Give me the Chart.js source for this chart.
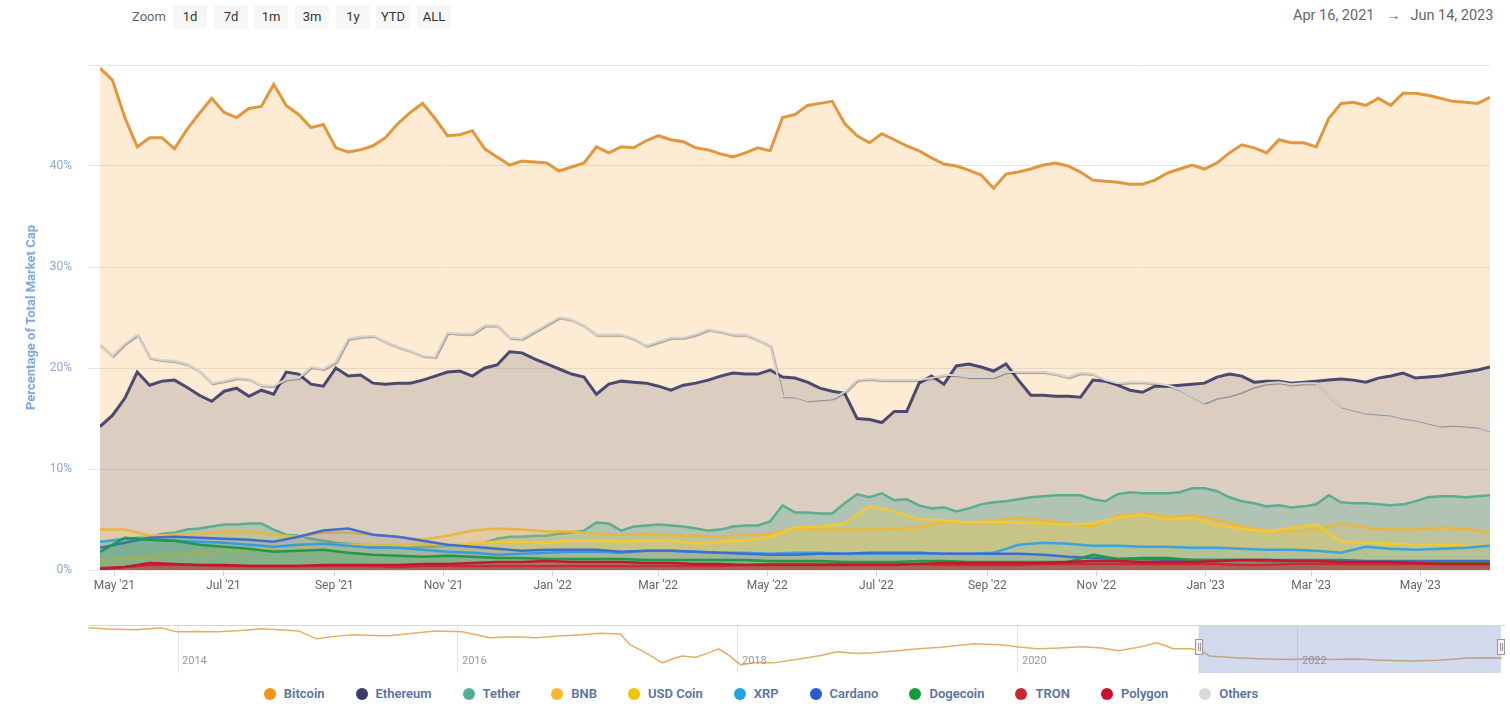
<!DOCTYPE html>
<html>
<head>
<meta charset="utf-8">
<script src="https://cdn.jsdelivr.net/npm/chart.js"></script>
<style>
  body { margin: 0; width: 1510px; height: 706px; background: #fff; position: relative; overflow: hidden;
         font-family: Roboto, "Liberation Sans", sans-serif; }
  .zoom-label { position: absolute; left: 132px; top: 9px; font-size: 13px; color: #666; }
  .btn { position: absolute; top: 5px; height: 24px; width: 34px; line-height: 24px; text-align: center;
         background: #f7f7f7; border-radius: 2px; font-size: 13px; color: #333; }
  .range { position: absolute; top: 7px; left: 1293px; font-size: 14.5px; color: #666; white-space: nowrap; }
  .range span { margin: 0 10px 0 12px; font-size: 14px; }
  #main { position: absolute; left: 0; top: 40px; }
  #nav { position: absolute; left: 88px; top: 626px; }
  #navline { position: absolute; left: 88px; top: 625px; width: 1417px; height: 1px; background: #d6d6d6; }
  #legend { position: absolute; left: 0; top: 686px; width: 1522px; display: flex; justify-content: center;
            font-size: 13px; font-weight: 600; color: #5a72a0; }
  .item { display: flex; align-items: center; margin: 0 15.5px; }
  .dot { width: 12px; height: 12px; border-radius: 50%; margin-right: 8px; }
</style>
</head>
<body>
<div class="zoom-label">Zoom</div>
<div class="btn" style="left:173px">1d</div>
<div class="btn" style="left:214px">7d</div>
<div class="btn" style="left:254px">1m</div>
<div class="btn" style="left:295px">3m</div>
<div class="btn" style="left:336px">1y</div>
<div class="btn" style="left:376px">YTD</div>
<div class="btn" style="left:417px">ALL</div>
<div class="range">Apr 16, 2021<span>→</span>Jun 14, 2023</div>

<canvas id="main" width="1510" height="560"></canvas>
<div id="navline"></div>
<canvas id="nav" width="1417" height="47"></canvas>
<div id="legend"></div>

<script>
// x axis: days since Apr 23, 2021
const startDate = Date.UTC(2021, 3, 23);
const spanDays = 777;

const tickMonths = [[2021,4],[2021,6],[2021,8],[2021,10],[2022,0],[2022,2],[2022,4],[2022,6],[2022,8],[2022,10],[2023,0],[2023,2],[2023,4]];
const tickLabels = ["May '21","Jul '21","Sep '21","Nov '21","Jan '22","Mar '22","May '22","Jul '22","Sep '22","Nov '22","Jan '23","Mar '23","May '23"];

const seriesNames = ['Bitcoin','Ethereum','Tether','BNB','USD Coin','XRP','Cardano','Dogecoin','TRON','Polygon','Others'];
const legendColors = ['#f7931a','#3c3c6c','#50af95','#f3ba2f','#f5c400','#23a3e3','#2a5ad0','#0f9b38','#c8272f','#c8102e','#d9d9d9'];
const lineColors = ['#e1983c','#4a4a70','#5aae8f','#e9b640','#f2c933','#3aa5dc','#3e6fcf','#1f9a45','#c9363d','#c0182f','#d2d2d2'];
const fillColors = ['rgba(247,153,40,0.2)','rgba(60,60,100,0.17)','rgba(80,175,149,0.3)','rgba(243,186,47,0.18)',
  'rgba(245,200,40,0.18)','rgba(35,163,227,0.12)','rgba(42,90,208,0.12)','rgba(15,155,56,0.2)',
  'rgba(200,39,47,0.3)','rgba(200,16,46,0.3)', null];

// weekly series (113 points)
const btc = [49.7,48.5,44.8,41.9,42.8,42.8,41.7,43.6,45.2,46.7,
  45.3,44.8,45.7,45.9,48.1,46.0,45.1,43.8,44.1,41.8,
  41.4,41.6,42.0,42.8,44.2,45.3,46.2,44.7,43.0,43.1,
  43.5,41.7,40.9,40.1,40.5,40.4,40.3,39.5,39.9,40.3,
  41.9,41.3,41.9,41.8,42.5,43.0,42.6,42.4,41.8,41.6,
  41.2,40.9,41.3,41.8,41.5,44.8,45.1,46.0,46.2,46.4,
  44.2,43.0,42.3,43.2,42.6,42.0,41.5,40.8,40.2,40.0,
  39.6,39.1,37.8,39.2,39.4,39.7,40.1,40.3,40.0,39.4,
  38.6,38.5,38.4,38.2,38.2,38.6,39.3,39.7,40.1,39.7,
  40.3,41.3,42.1,41.8,41.3,42.6,42.3,42.3,41.9,44.7,
  46.2,46.3,46.0,46.7,46.0,47.2,47.2,47.0,46.7,46.4,
  46.3,46.2,46.8];
const eth = [14.2,15.3,17.0,19.6,18.3,18.7,18.8,18.1,17.3,16.7,
  17.7,18.0,17.2,17.8,17.4,19.6,19.4,18.4,18.2,20.0,
  19.2,19.3,18.5,18.4,18.5,18.5,18.8,19.2,19.6,19.7,
  19.2,20.0,20.3,21.6,21.5,20.9,20.4,19.9,19.4,19.1,
  17.4,18.4,18.7,18.6,18.5,18.2,17.8,18.3,18.5,18.8,
  19.2,19.5,19.4,19.4,19.8,19.1,19.0,18.6,18.0,17.7,
  17.5,15.0,14.9,14.6,15.7,15.7,18.5,19.2,18.4,20.2,
  20.4,20.1,19.7,20.4,18.8,17.3,17.3,17.2,17.2,17.1,
  18.8,18.7,18.3,17.8,17.6,18.2,18.2,18.3,18.4,18.5,
  19.1,19.4,19.2,18.6,18.7,18.7,18.5,18.6,18.7,18.8,
  18.9,18.8,18.6,19.0,19.2,19.5,19.0,19.1,19.2,19.4,
  19.6,19.8,20.1];
const usdt = [2.8,2.9,3.1,3.2,3.2,3.6,3.7,4.0,4.1,4.3,
  4.5,4.5,4.6,4.6,4.0,3.5,3.4,3.1,2.9,2.7,
  2.6,2.5,2.4,2.3,2.2,2.2,2.3,2.3,2.4,2.5,
  2.6,2.7,3.1,3.3,3.3,3.4,3.4,3.6,3.7,3.9,
  4.7,4.6,3.9,4.3,4.4,4.5,4.4,4.3,4.1,3.9,
  4.0,4.3,4.4,4.4,4.8,6.4,5.7,5.7,5.6,5.6,
  6.6,7.5,7.2,7.6,6.9,7.0,6.4,6.1,6.2,5.8,
  6.1,6.5,6.7,6.8,7.0,7.2,7.3,7.4,7.4,7.4,
  7.0,6.8,7.5,7.7,7.6,7.6,7.6,7.7,8.1,8.1,
  7.8,7.2,6.8,6.6,6.3,6.4,6.2,6.3,6.5,7.4,
  6.7,6.6,6.6,6.5,6.4,6.5,6.8,7.2,7.3,7.3,
  7.2,7.3,7.4];
const others = [22.3,21.2,22.4,23.3,21.0,20.8,20.7,20.4,19.7,18.5,
  18.7,19.0,18.9,18.3,18.2,18.9,19.0,20.1,19.9,20.6,
  22.9,23.1,23.2,22.6,22.1,21.7,21.2,21.1,23.5,23.4,
  23.4,24.2,24.2,23.0,22.9,23.6,24.3,25.0,24.8,24.2,
  23.3,23.3,23.3,22.9,22.2,22.6,23.0,23.0,23.3,23.8,
  23.6,23.3,23.3,22.8,22.2,17.2,17.2,16.8,16.9,17.0,
  17.6,18.8,18.9,18.8,18.8,18.8,18.8,19.0,19.3,19.3,
  19.1,19.1,19.1,19.6,19.6,19.6,19.6,19.4,19.1,19.5,
  19.4,18.8,18.5,18.6,18.6,18.5,18.3,17.9,17.2,16.6,
  17.1,17.3,17.7,18.2,18.5,18.6,18.4,18.5,18.5,17.2,
  16.2,15.9,15.6,15.5,15.4,15.1,14.9,14.6,14.3,14.4,
  14.3,14.2,13.8];

// fortnightly series (57 points)
const bnb = [4.0,4.0,3.4,3.5,3.6,3.8,3.8,3.5,3.3,3.7,
  3.7,3.5,3.3,3.0,3.4,3.9,4.1,4.0,3.8,3.8,
  3.6,3.5,3.6,3.4,3.4,3.3,3.5,3.6,4.1,4.0,
  4.0,4.0,4.1,4.2,4.8,4.6,4.9,5.2,4.9,4.6,
  4.3,5.4,5.6,5.3,5.4,5.0,4.3,3.9,3.8,4.0,
  4.6,4.2,4.0,4.0,4.2,4.1,3.7];
const usdc = [1.0,1.1,1.3,1.5,1.7,1.9,2.1,2.3,2.4,2.5,
  2.5,2.5,2.5,2.6,2.5,2.6,2.8,2.8,2.7,2.9,
  2.9,2.8,2.9,2.9,2.6,2.8,2.9,3.3,4.2,4.3,
  4.6,6.3,5.8,5.0,4.9,4.7,4.8,4.7,4.6,4.5,
  4.6,5.2,5.5,5.0,5.2,4.4,4.1,3.8,4.2,4.5,
  2.8,2.7,2.6,2.5,2.5,2.4,2.4];
const xrp = [2.8,3.1,3.0,2.9,2.8,2.7,2.5,2.3,2.5,2.6,
  2.4,2.2,2.2,2.0,1.8,1.7,1.5,1.6,1.7,1.8,
  1.8,1.7,1.9,1.9,1.8,1.7,1.7,1.6,1.7,1.7,
  1.6,1.6,1.6,1.6,1.6,1.6,1.7,2.5,2.7,2.6,
  2.4,2.4,2.3,2.3,2.2,2.2,2.1,2.0,2.0,1.9,
  1.7,2.3,2.1,2.0,2.1,2.2,2.4];
const ada = [2.2,2.7,3.2,3.3,3.2,3.1,3.0,2.8,3.3,3.9,
  4.1,3.5,3.3,2.9,2.5,2.3,2.1,1.9,2.0,2.0,
  2.0,1.8,1.9,1.9,1.8,1.7,1.6,1.5,1.5,1.6,
  1.6,1.7,1.7,1.7,1.6,1.6,1.6,1.6,1.5,1.3,
  1.2,1.1,1.1,1.0,1.0,1.0,1.0,1.0,1.0,1.0,
  1.0,0.9,0.9,0.9,0.9,0.9,0.9];
const doge = [1.8,3.2,3.0,2.9,2.5,2.3,2.1,1.8,1.9,2.0,
  1.7,1.5,1.4,1.3,1.4,1.3,1.2,1.2,1.1,1.1,
  1.1,1.1,1.0,1.0,1.0,1.0,1.0,0.9,0.9,0.9,
  0.8,0.8,0.8,0.9,0.9,0.8,0.8,0.8,0.8,0.8,
  1.5,1.1,1.2,1.2,1.0,1.0,1.0,0.9,0.9,0.9,
  0.8,0.8,0.8,0.8,0.7,0.7,0.7];
const trx = [0.2,0.3,0.5,0.5,0.5,0.4,0.4,0.4,0.4,0.4,
  0.4,0.4,0.3,0.4,0.4,0.4,0.4,0.4,0.4,0.4,
  0.4,0.4,0.4,0.4,0.4,0.4,0.5,0.6,0.6,0.6,
  0.6,0.6,0.6,0.6,0.5,0.5,0.5,0.5,0.6,0.6,
  0.6,0.6,0.6,0.6,0.6,0.6,0.5,0.5,0.6,0.6,
  0.6,0.6,0.6,0.6,0.6,0.6,0.6];
const matic = [0.1,0.3,0.7,0.6,0.5,0.5,0.4,0.4,0.4,0.5,
  0.5,0.5,0.5,0.6,0.6,0.7,0.8,0.8,0.9,0.8,
  0.8,0.8,0.7,0.7,0.6,0.6,0.5,0.5,0.5,0.5,
  0.5,0.5,0.5,0.6,0.7,0.7,0.7,0.7,0.7,0.8,
  0.9,0.9,0.8,0.8,0.8,0.9,1.0,1.0,0.9,0.9,
  0.8,0.8,0.8,0.7,0.6,0.6,0.6];

// navigator (Bitcoin dominance, full history)
const navYears = [2013.36,2013.50,2013.69,2013.80,2013.88,2013.99,2014.12,2014.28,2014.45,2014.60,
  2014.75,2014.86,2014.99,2015.12,2015.25,2015.40,2015.51,2015.68,2015.84,2016.03,
  2016.12,2016.23,2016.40,2016.56,2016.72,2016.88,2017.02,2017.16,2017.23,2017.33,
  2017.46,2017.53,2017.60,2017.70,2017.79,2017.86,2017.90,2017.94,2018.02,2018.12,
  2018.25,2018.44,2018.60,2018.71,2018.85,2018.96,2019.12,2019.29,2019.45,2019.55,
  2019.68,2019.88,2020.02,2020.14,2020.30,2020.46,2020.60,2020.72,2020.88,2020.99,
  2021.05,2021.11,2021.24,2021.30,2021.37,2021.55,2021.76,2021.95,2022.09,2022.25,
  2022.41,2022.60,2022.81,2023.00,2023.21,2023.35,2023.46];
const navValues = [95,93,91.7,93.5,95,88.4,89,88.4,90.5,93.4,
  91.5,90,77,81,83.5,82.5,82,86,90,88.4,
  84,78.6,80.5,78.6,81.5,83.5,86,85,67,55.6,
  37.6,44,49,47,54,60.7,55,49,34.3,38,
  37.6,44,50,55.6,53,54,57,60.7,63,65.6,
  68.9,67.2,63,60.7,62,64,62,57.3,64,70.5,
  66,60.7,60.7,58,49,46,44,43,44,43,
  44,42,40.7,42,45.6,46,45.6];
const navTicks = [2014, 2016, 2018, 2020, 2022];
const navRange = [2013.357, 2023.479];
const navSelection = [2021.29, 2023.45];

const dayMs = 86400000;
const tickDays = tickMonths.map(([y, m]) => (Date.UTC(y, m, 1) - startDate) / dayMs);

const weekly = arr => arr.map((v, i) => ({ x: i * spanDays / (arr.length - 1), y: v }));
const seriesData = [btc, eth, usdt, bnb, usdc, xrp, ada, doge, trx, matic, others];

const datasets = seriesData.map((arr, i) => ({
  label: seriesNames[i],
  data: weekly(arr),
  borderColor: lineColors[i],
  backgroundColor: fillColors[i] || 'transparent',
  fill: fillColors[i] ? 'origin' : false,
  borderWidth: i < 2 ? 3 : (i === 10 ? 2 : 2.5),
  pointRadius: 0,
  tension: 0,
  order: seriesNames.length - 1 - i
}));

// soft shadow under the "Others" line, as in the original
const lineShadow = {
  id: 'lineShadow',
  beforeDatasetDraw(chart, args) {
    if (args.index !== 10) return;
    const ctx = chart.ctx;
    ctx.save();
    ctx.shadowColor = 'rgba(0,0,0,0.35)';
    ctx.shadowOffsetX = 1;
    ctx.shadowOffsetY = 1;
    ctx.shadowBlur = 1;
  },
  afterDatasetDraw(chart, args) {
    if (args.index === 10) chart.ctx.restore();
  }
};

new Chart(document.getElementById('main'), {
  type: 'line',
  data: { datasets },
  options: {
    responsive: false,
    animation: false,
    events: [],
    layout: { padding: { left: 0, right: 20, top: 25, bottom: 0 } },
    plugins: { legend: { display: false }, tooltip: { enabled: false } },
    scales: {
      x: {
        type: 'linear', min: 0, max: spanDays,
        afterBuildTicks: axis => { axis.ticks = tickDays.map(v => ({ value: v })); },
        afterFit: s => { s.height = 30; },
        ticks: {
          autoSkip: false, maxRotation: 0, padding: 3,
          color: '#666', font: { family: 'Roboto', size: 12 },
          callback: (v, i) => tickLabels[i]
        },
        grid: { drawOnChartArea: false, drawTicks: true, tickLength: 6, color: '#ccd6eb' },
        border: { color: '#e6e6e6' }
      },
      y: {
        min: 0, max: 50,
        afterFit: s => { s.width = 100; },
        ticks: {
          stepSize: 10, padding: 16,
          color: '#8da9cf', font: { family: 'Roboto', size: 12 },
          callback: v => v === 50 ? '' : v + '%'
        },
        grid: { color: '#e6e6e6', tickLength: 12 },
        border: { display: false },
        title: {
          display: true, text: 'Percentage of Total Market Cap',
          color: '#7ea8de', font: { family: 'Roboto', size: 13, weight: 'bold' },
          padding: { top: 24, bottom: 0 }
        }
      }
    }
  },
  plugins: [lineShadow]
});

// navigator
const navPlugin = {
  id: 'navExtras',
  afterDraw(chart) {
    const ctx = chart.ctx;
    const xs = chart.scales.x;
    const h = chart.height;
    ctx.save();
    ctx.fillStyle = '#999';
    ctx.font = '11px Roboto';
    ctx.textBaseline = 'alphabetic';
    navTicks.forEach(t => ctx.fillText(String(t), xs.getPixelForValue(t) + 4, 38));
    const x0 = xs.getPixelForValue(navSelection[0]);
    const x1 = xs.getPixelForValue(navSelection[1]);
    ctx.fillStyle = 'rgba(102,133,194,0.3)';
    ctx.fillRect(x0, 0, x1 - x0, h);
    [x0, x1].forEach(x => {
      ctx.fillStyle = '#f2f2f2';
      ctx.strokeStyle = '#999';
      ctx.lineWidth = 1;
      ctx.fillRect(Math.round(x) - 3.5, 13.5, 7, 15);
      ctx.strokeRect(Math.round(x) - 3.5, 13.5, 7, 15);
      ctx.beginPath();
      ctx.moveTo(Math.round(x) - 0.5, 17); ctx.lineTo(Math.round(x) - 0.5, 25);
      ctx.moveTo(Math.round(x) + 1.5, 17); ctx.lineTo(Math.round(x) + 1.5, 25);
      ctx.stroke();
    });
    ctx.restore();
  }
};

new Chart(document.getElementById('nav'), {
  type: 'line',
  data: { datasets: [{
    data: navYears.map((y, i) => ({ x: y, y: navValues[i] })),
    borderColor: '#e6ae64', borderWidth: 1.5, pointRadius: 0, tension: 0, fill: false
  }] },
  options: {
    responsive: false,
    animation: false,
    events: [],
    layout: { padding: 0 },
    plugins: { legend: { display: false }, tooltip: { enabled: false } },
    scales: {
      x: {
        type: 'linear', min: navRange[0], max: navRange[1],
        afterBuildTicks: axis => { axis.ticks = navTicks.map(v => ({ value: v })); },
        afterFit: s => { s.height = 0; },
        ticks: { display: false },
        grid: { color: '#e6e6e6', drawTicks: false },
        border: { display: false }
      },
      y: { display: false, min: 21, max: 98 }
    }
  },
  plugins: [navPlugin]
});

// legend
const legend = document.getElementById('legend');
seriesNames.forEach((name, i) => {
  const item = document.createElement('div');
  item.className = 'item';
  item.innerHTML = '<span class="dot" style="background:' + legendColors[i] + '"></span>' + name;
  legend.appendChild(item);
});
</script>
</body>
</html>
